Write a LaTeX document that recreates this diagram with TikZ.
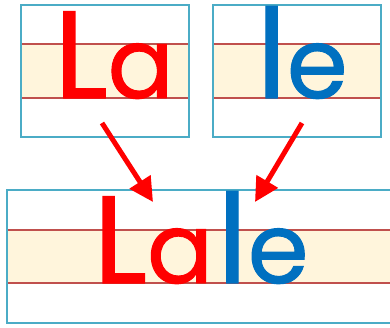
\documentclass[tikz,border=0pt]{standalone}
\usepackage{fontspec}
\setmainfont{Poppins}[FakeBold=1]
\usetikzlibrary{arrows.meta}
\definecolor{boxblue}{HTML}{4BACC6}
\definecolor{bandfill}{HTML}{FFF5DC}
\definecolor{rule}{HTML}{C0504D}
\definecolor{lred}{HTML}{FF0000}
\definecolor{lblue}{HTML}{0070C0}
\newcommand\tallsz{\fontsize{124}{124}\selectfont}
\newcommand\shortsz{\fontsize{98}{98}\selectfont}
\tikzset{
  frame/.style={draw=boxblue, line width=2pt},
  band/.style={fill=bandfill},
  guide/.style={draw=rule, line width=1.6pt},
  word/.style={anchor=base, inner sep=0pt},
  pointer/.style={draw=lred, line width=5pt, -{Triangle[length=24pt,width=24pt]}}
}
\begin{document}
\begin{tikzpicture}[x=1pt,y=-1pt]
\useasboundingbox (0,0) rectangle (390,327);
% box 1
\fill[band] (21,44) rectangle (189,98);
\draw[guide] (21,44) -- (189,44);
\draw[guide] (21,98) -- (189,98);
\node[frame, minimum width=168pt, minimum height=132pt, inner sep=0pt] (b1) at (105,71) {};
% box 2
\fill[band] (213,44) rectangle (381,98);
\draw[guide] (213,44) -- (381,44);
\draw[guide] (213,98) -- (381,98);
\node[frame, minimum width=168pt, minimum height=132pt, inner sep=0pt] (b2) at (297,71) {};
% box 3
\fill[band] (7,230) rectangle (396,283);
\draw[guide] (7,230) -- (396,230);
\draw[guide] (7,283) -- (396,283);
\draw[frame] (7,190) rectangle (398,323);
% words
\node[word, text=lred] (la) at (114,98) {{\tallsz L}{\shortsz a}};
\node[word, text=lblue] (le) at (302,98) {{\tallsz l}{\shortsz e}};
\node[word] (lale) at (201,283) {\textcolor{lred}{{\tallsz L}{\shortsz a}}\kern4pt\textcolor{lblue}{{\tallsz l}{\shortsz e}}};
% arrows
\coordinate (s1) at (102,123);
\coordinate (t1) at (153,202);
\coordinate (s2) at (302,123);
\coordinate (t2) at (255,202);
\draw[pointer] (s1) -- (t1);
\draw[pointer] (s2) -- (t2);
\end{tikzpicture}
\end{document}
